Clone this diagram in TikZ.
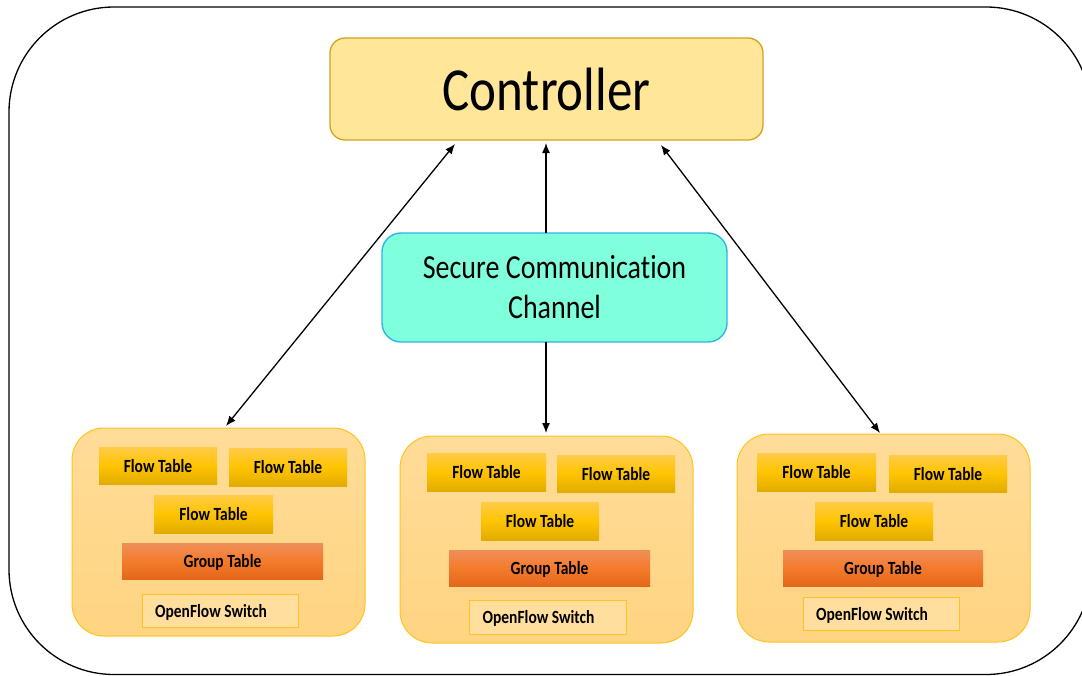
\documentclass[tikz,border=0pt]{standalone}
\usepackage{fontspec}
\usepackage{graphicx}
\setmainfont[Ligatures=NoCommon]{Carlito}
\usetikzlibrary{arrows.meta}

\definecolor{ctrlFill}{HTML}{FFE699}
\definecolor{ctrlLine}{HTML}{D4A21C}
\definecolor{chanFill}{HTML}{7FFFDC}
\definecolor{chanLine}{HTML}{2FB4E6}
\definecolor{swTop}{HTML}{FFDC98}
\definecolor{swBot}{HTML}{FFD482}
\definecolor{swLine}{HTML}{FFC31F}
\definecolor{ftTop}{HTML}{FFCB48}
\definecolor{ftMid}{HTML}{FFC400}
\definecolor{ftBot}{HTML}{E1AC00}
\definecolor{grTop}{HTML}{F08E5A}
\definecolor{grMid}{HTML}{F47B2C}
\definecolor{grBot}{HTML}{E3671B}
\definecolor{ofsFill}{HTML}{FFDE9E}

% text slightly stretched vertically, depth removed for even centring
\newcommand\lbl[1]{\scalebox{1}[1.2]{\raisebox{0pt}[\height][0pt]{#1}}}
% node from its two corners: style, name, x1, y1, x2, y2, text
\newcommand\boxat[7]{\node[#1, minimum width={#5-#3}, minimum height={#6-#4}]
  (#2) at ({(#3+#5)/2},{(#4+#6)/2}) {#7};}

\tikzset{
  frame/.style={draw=black, line width=1.3pt, rounded corners=105pt},
  ctrlbox/.style={draw=ctrlLine, fill=ctrlFill, line width=1.3pt,
    rounded corners=15pt, inner sep=0pt, outer sep=0pt,
    font=\fontsize{51}{60}\selectfont},
  chanbox/.style={draw=chanLine, fill=chanFill, line width=1.4pt,
    rounded corners=19pt, inner sep=0pt, outer sep=0pt,
    font=\fontsize{28}{33}\selectfont},
  switchbox/.style={draw=swLine, top color=swTop, bottom color=swBot,
    line width=1pt, rounded corners=32pt, inner sep=0pt, outer sep=0pt},
  tabletext/.style={inner sep=0pt, outer sep=0pt,
    font=\fontsize{15.5}{18}\bfseries\selectfont},
  flowtab/.style={tabletext, top color=ftTop, bottom color=ftBot, middle color=ftMid},
  grouptab/.style={tabletext, top color=grTop, bottom color=grBot, middle color=grMid},
  ofsbox/.style={tabletext, fill=ofsFill, draw=swLine, line width=1pt},
  arr/.style={line width=1.3pt, -{Latex[length=10pt,width=8pt]}},
  darr/.style={line width=1.3pt, {Latex[length=10pt,width=8pt]}-{Latex[length=10pt,width=8pt]}}
}

\begin{document}
\begin{tikzpicture}[x=1pt, y=-1pt]
\useasboundingbox (0,0) rectangle (1082,675);

% outer enclosure, partly running off the page
\begin{scope}
  \clip (0,0) rectangle (1082,675);
  \draw[frame] (9,7) rectangle (1091,674.5);
\end{scope}

% controller and channel
\boxat{ctrlbox}{ctrl}{330}{38}{763}{140}{\lbl{Controller}}
\boxat{chanbox}{chan}{382}{233}{727}{342}{\raisebox{-3pt}[\height][\depth]{\scalebox{1}[1.2]{\begin{tabular}{@{}c@{}}Secure Communication\\Channel\end{tabular}}}}

% left switch
\boxat{switchbox}{swL}{72}{428}{365}{636}{}
\boxat{flowtab}{ftL1}{99}{447}{217}{484}{\lbl{Flow Table}}
\boxat{flowtab}{ftL2}{229}{448}{347}{486}{\lbl{Flow Table}}
\boxat{flowtab}{ftL3}{154}{495}{273}{533}{\lbl{Flow Table}}
\boxat{grouptab}{grL}{122}{543}{323}{579}{\lbl{Group Table}}
\boxat{ofsbox}{ofL}{142}{594}{298}{627}{\lbl{OpenFlow Switch}\hspace*{18pt}}

% middle switch
\boxat{switchbox}{swM}{400}{436}{693}{643}{}
\boxat{flowtab}{ftM1}{427}{453}{546}{491}{\lbl{Flow Table}}
\boxat{flowtab}{ftM2}{557}{455}{675}{492}{\lbl{Flow Table}}
\boxat{flowtab}{ftM3}{481}{502}{599}{540}{\lbl{Flow Table}}
\boxat{grouptab}{grM}{449}{550}{650}{586}{\lbl{Group Table}}
\boxat{ofsbox}{ofM}{469}{600}{626}{634}{\lbl{OpenFlow Switch}\hspace*{18pt}}

% right switch
\boxat{switchbox}{swR}{737}{434}{1030}{642}{}
\boxat{flowtab}{ftR1}{757}{453}{876}{491}{\lbl{Flow Table}}
\boxat{flowtab}{ftR2}{889}{455}{1007}{492}{\lbl{Flow Table}}
\boxat{flowtab}{ftR3}{815}{502}{933}{540}{\lbl{Flow Table}}
\boxat{grouptab}{grR}{783}{550}{983}{586}{\lbl{Group Table}}
\boxat{ofsbox}{ofR}{803}{597}{959}{630}{\lbl{OpenFlow Switch}\hspace*{18pt}}

% connector end points
\coordinate (tL) at (455,144);
\coordinate (bL) at (226,426);
\coordinate (tM) at (546,143);
\coordinate (bM) at (546,433);
\coordinate (tR) at (661,145);
\coordinate (bR) at (880,433);

\draw[darr] (bL) -- (tL);
\draw[arr] (chan.north -| tM) -- (tM);
\draw[arr] (chan.south -| bM) -- (bM);
\draw[darr] (tR) -- (bR);
\end{tikzpicture}
\end{document}
